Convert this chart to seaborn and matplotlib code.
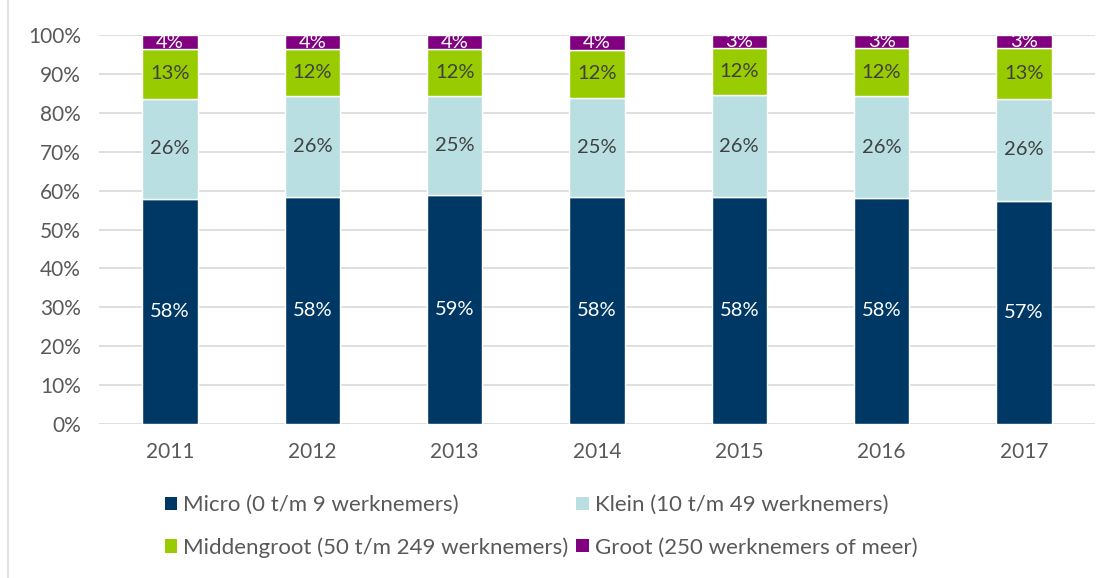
import numpy as np
import pandas as pd
import seaborn as sns
import matplotlib.pyplot as plt
from matplotlib.lines import Line2D
from matplotlib.patches import Patch

# Data (percent of total per year)
years = ['2011', '2012', '2013', '2014', '2015', '2016', '2017']
micro = [57.8, 58.4, 58.8, 58.4, 58.4, 58.1, 57.4]
klein = [25.8, 25.8, 25.4, 25.4, 26.1, 26.1, 26.1]
middengroot = [12.8, 12.2, 12.2, 12.4, 12.2, 12.5, 13.2]
groot = [3.6, 3.6, 3.6, 3.8, 3.3, 3.3, 3.3]

series_names = ['Micro (0 t/m 9 werknemers)', 'Klein (10 t/m 49 werknemers)',
                'Middengroot (50 t/m 249 werknemers)', 'Groot (250 werknemers of meer)']
series_values = [micro, klein, middengroot, groot]
colors = ['#003865', '#b9dfe3', '#99cc00', '#800080']
label_colors = ['white', '#404040', '#404040', 'white']

sns.set_theme(style='white')
plt.rcParams['font.family'] = ['Lato', 'DejaVu Sans']

fig = plt.figure(figsize=(11.16, 5.78), dpi=100)
ax = fig.add_axes([99 / 1116, 1 - 424 / 578, (1095 - 99) / 1116, (424 - 35) / 578])

bottom = np.zeros(len(years))
for name, vals, col, lcol in zip(series_names, series_values, colors, label_colors):
    vals = np.array(vals)
    sns.barplot(x=years, y=vals, bottom=bottom, color=col, width=0.39,
                saturation=1, ax=ax, zorder=3)
    ax.bar_label(ax.containers[-1], labels=[f'{round(v):.0f}%' for v in vals],
                 label_type='center', color=lcol, fontsize=14.5)
    bottom += vals

ax.set_ylim(0, 100)
ax.set_xlim(-0.5, len(years) - 0.5)
ax.set_yticks(np.arange(0, 101, 10))
ax.set_yticklabels([f'{v}%' for v in range(0, 101, 10)])
ax.yaxis.grid(True, color='#d9d9d9', linewidth=1.2, zorder=0)
ax.set_axisbelow(True)
for s in ax.spines.values():
    s.set_visible(False)
ax.tick_params(axis='both', colors='#595959', labelsize=15, length=0)
ax.tick_params(axis='x', pad=13)
ax.tick_params(axis='y', pad=13)
ax.set_xlabel('')
ax.set_ylabel('')

# legend filled row-wise like the original: Micro, Klein / Middengroot, Groot
order = [0, 2, 1, 3]
handles = [Patch(facecolor=colors[i], edgecolor='none') for i in order]
fig.legend(handles, [series_names[i] for i in order], ncol=2, loc='center',
           bbox_to_anchor=(0.485, 0.089), frameon=False, fontsize=16,
           labelcolor='#595959', handlelength=0.55, handleheight=0.55,
           handletextpad=0.3, columnspacing=0.35, labelspacing=1.0)

# light chart frame on the left edge
fig.add_artist(Line2D([8 / 1116, 8 / 1116], [0, 1], color='#d9d9d9', linewidth=1.2))

fig.savefig('out.png', dpi=100)
